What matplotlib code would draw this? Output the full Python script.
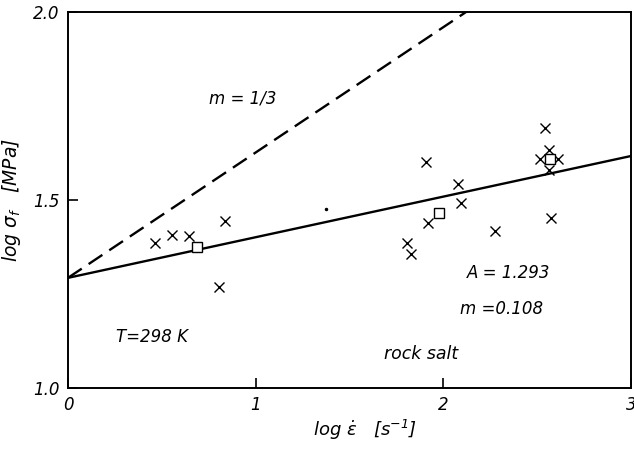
import numpy as np
import matplotlib
matplotlib.use("Agg")
import matplotlib.pyplot as plt

# measured points, log strain rate vs log flow stress
cross_x = [0.466, 0.556, 0.646, 0.836, 0.805,
           2.540, 1.906, 2.076, 2.092, 1.918, 1.808, 1.826, 2.273, 2.575,
           2.565, 2.515, 2.612, 2.561]
cross_y = [1.385, 1.407, 1.404, 1.444, 1.269,
           1.691, 1.600, 1.542, 1.493, 1.440, 1.385, 1.356, 1.418, 1.453,
           1.634, 1.608, 1.608, 1.581]
square_x = [0.686, 1.979, 2.566]
square_y = [1.374, 1.466, 1.608]
stray_x = [1.376]
stray_y = [1.475]

# fit parameters
A = 1.293
m_fit = 0.108
m_ref = 1 / 3

plt.rcParams['font.family'] = ['DejaVu Sans']
plt.rcParams['font.style'] = 'italic'
plt.rcParams['mathtext.fontset'] = 'dejavusans'

fig = plt.figure(figsize=(6.34, 4.51), dpi=100)
ax = fig.add_axes([68 / 634, 63 / 451, 563 / 634, 376 / 451])

xs = np.array([0, 3])
ax.plot(xs, A + m_fit * xs, color='black', lw=1.7)
ax.plot(xs, A + m_ref * xs, color='black', lw=1.7, linestyle=(0, (7, 3.5)))

ax.plot(cross_x, cross_y, 'x', color='black', ms=6.5, mew=1.0)
ax.plot(square_x, square_y, 's', mfc='white', mec='black', ms=6.5, mew=1.0)
ax.plot(stray_x, stray_y, '.', color='black', ms=3)

ax.set_xlim(0, 3)
ax.set_ylim(1.0, 2.0)
ax.set_xticks([0, 1, 2, 3])
ax.set_xticklabels(['0', '1', '2', '3'])
ax.set_yticks([1.0, 1.5, 2.0])
ax.set_yticklabels(['1.0', '1.5', '2.0'])
ax.tick_params(direction='in', length=7, width=1.2, labelsize=12, pad=6)
for s in ax.spines.values():
    s.set_linewidth(1.4)

ax.set_xlabel(r'log $\dot{\varepsilon}$   [s$^{-1}$]', fontsize=13)
ax.set_ylabel(r'log $\sigma_f$   [MPa]', fontsize=13.5)
ax.xaxis.set_label_coords(0.527, -0.08)
ax.yaxis.set_label_coords(-0.080, 0.5)

ax.text(0.93, 1.77, 'm = 1/3', fontsize=12, ha='center', va='center')
ax.text(0.45, 1.135, 'T=298 K', fontsize=12, ha='center', va='center')
ax.text(1.88, 1.09, 'rock salt', fontsize=12.5, ha='center', va='center')
ax.text(2.35, 1.305, 'A = 1.293', fontsize=12, ha='center', va='center')
ax.text(2.31, 1.21, 'm =0.108', fontsize=12, ha='center', va='center')

fig.savefig('out.png', dpi=100)
